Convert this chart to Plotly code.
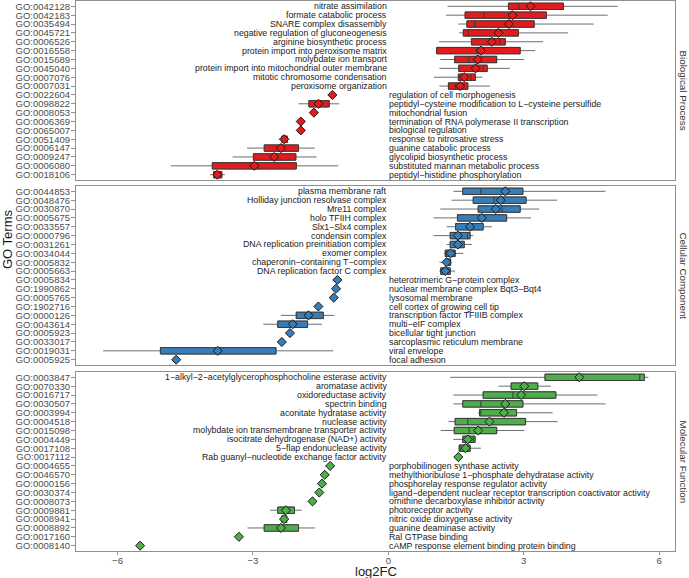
import plotly.graph_objects as go

# ---------------- data ----------------
bp_ids = ["GO:0042128","GO:0042183","GO:0035494","GO:0045721","GO:0006526","GO:0016558","GO:0015689","GO:0045040","GO:0007076","GO:0007031",
          "GO:0022604","GO:0098822","GO:0008053","GO:0006369","GO:0065007","GO:0051409","GO:0006147","GO:0009247","GO:0006080","GO:0018106"]
bp_desc = ["nitrate assimilation","formate catabolic process","SNARE complex disassembly","negative regulation of gluconeogenesis",
           "arginine biosynthetic process","protein import into peroxisome matrix","molybdate ion transport",
           "protein import into mitochondrial outer membrane","mitotic chromosome condensation","peroxisome organization",
           "regulation of cell morphogenesis","peptidyl−cysteine modification to L−cysteine persulfide","mitochondrial fusion",
           "termination of RNA polymerase II transcription","biological regulation","response to nitrosative stress",
           "guanine catabolic process","glycolipid biosynthetic process","substituted mannan metabolic process",
           "peptidyl−histidine phosphorylation"]
bp_lo   = [1.31,1.28,1.55,1.57,1.12,1.07,1.15,1.13,1.01,1.13,-1.24,-1.99,-1.65,-1.94,-1.94,-2.43,-3.13,-3.45,-4.82,-3.95]
bp_q1   = [2.66,1.70,1.74,1.66,1.84,1.07,1.47,1.56,1.55,1.33,-1.24,-1.76,-1.65,-1.94,-1.94,-2.36,-2.75,-2.99,-3.90,-3.87]
bp_med  = [2.89,2.12,1.91,1.77,2.47,1.96,1.78,2.10,1.83,1.48,-1.24,-1.55,-1.65,-1.94,-1.94,-2.31,-2.38,-2.53,-2.97,-3.79]
bp_q3   = [3.88,3.50,3.23,2.88,2.59,2.92,2.40,2.19,1.93,1.76,-1.24,-1.31,-1.65,-1.94,-1.94,-2.24,-1.99,-2.05,-2.04,-3.69]
bp_hi   = [5.08,4.86,4.55,3.98,3.43,3.25,3.01,2.69,2.08,2.25,-1.24,-1.09,-1.65,-1.94,-1.94,-2.19,-1.63,-1.59,-1.11,-3.62]
bp_mean = [3.15,2.75,2.67,2.44,2.29,2.05,1.98,1.93,1.68,1.59,-1.24,-1.55,-1.65,-1.94,-1.94,-2.31,-2.38,-2.53,-2.97,-3.79]

cc_ids = ["GO:0044853","GO:0048476","GO:0030870","GO:0005675","GO:0033557","GO:0000796","GO:0031261","GO:0034044","GO:0005832","GO:0005663",
          "GO:0005834","GO:1990862","GO:0005765","GO:1902716","GO:0000126","GO:0043614","GO:0005923","GO:0033017","GO:0019031","GO:0005925"]
cc_desc = ["plasma membrane raft","Holliday junction resolvase complex","Mre11 complex","holo TFIIH complex","Slx1−Slx4 complex",
           "condensin complex","DNA replication preinitiation complex","exomer complex","chaperonin−containing T−complex",
           "DNA replication factor C complex","heterotrimeric G−protein complex","nuclear membrane complex Bqt3−Bqt4",
           "lysosomal membrane","cell cortex of growing cell tip","transcription factor TFIIIB complex","multi−eIF complex",
           "bicellular tight junction","sarcoplasmic reticulum membrane","viral envelope","focal adhesion"]
cc_lo   = [1.44,1.40,1.15,1.00,1.29,1.00,1.29,1.23,1.13,1.13,-1.13,-1.16,-1.21,-1.55,-2.38,-2.77,-2.18,-2.36,-6.32,-4.70]
cc_q1   = [1.65,1.88,1.99,1.53,1.49,1.37,1.37,1.26,1.26,1.16,-1.13,-1.16,-1.21,-1.55,-2.04,-2.45,-2.18,-2.36,-5.05,-4.70]
cc_med  = [2.05,2.34,2.52,2.07,1.81,1.75,1.53,1.28,1.30,1.26,-1.13,-1.16,-1.21,-1.55,-1.70,-2.12,-2.18,-2.36,-3.78,-4.70]
cc_q3   = [2.98,3.05,2.92,2.62,2.10,1.81,1.68,1.48,1.38,1.37,-1.13,-1.16,-1.21,-1.55,-1.44,-1.79,-2.18,-2.36,-2.49,-4.70]
cc_hi   = [4.81,3.74,3.34,3.16,2.29,1.88,1.85,1.66,1.38,1.48,-1.13,-1.16,-1.21,-1.55,-1.20,-1.47,-2.18,-2.36,-1.22,-4.70]
cc_mean = [2.59,2.49,2.38,2.07,1.81,1.54,1.54,1.38,1.29,1.26,-1.13,-1.16,-1.21,-1.55,-1.77,-2.12,-2.18,-2.36,-3.78,-4.70]

mf_ids = ["GO:0003847","GO:0070330","GO:0016717","GO:0030507","GO:0003994","GO:0004518","GO:0015098","GO:0004449","GO:0017108","GO:0017112",
          "GO:0004655","GO:0046570","GO:0000156","GO:0030374","GO:0008073","GO:0009881","GO:0008941","GO:0008892","GO:0017160","GO:0008140"]
mf_desc = ["1−alkyl−2−acetylglycerophosphocholine esterase activity","aromatase activity","oxidoreductase activity",
           "spectrin binding","aconitate hydratase activity","nuclease activity","molybdate ion transmembrane transporter activity",
           "isocitrate dehydrogenase (NAD+) activity","5−flap endonuclease activity","Rab guanyl−nucleotide exchange factor activity",
           "porphobilinogen synthase activity","methylthioribulose 1−phosphate dehydratase activity",
           "phosphorelay response regulator activity","ligand−dependent nuclear receptor transcription coactivator activity",
           "ornithine decarboxylase inhibitor activity","photoreceptor activity","nitric oxide dioxygenase activity",
           "guanine deaminase activity","Ral GTPase binding","cAMP response element binding protein binding"]
mf_lo   = [1.37,2.44,1.44,1.44,1.99,1.33,1.16,1.44,1.56,1.51,-1.29,-1.41,-1.47,-1.53,-1.68,-2.62,-2.40,-3.12,-3.31,-5.50]
mf_q1   = [3.47,2.72,2.10,1.65,2.02,1.48,1.46,1.65,1.57,1.53,-1.29,-1.41,-1.47,-1.53,-1.68,-2.45,-2.36,-2.75,-3.31,-5.50]
mf_med  = [5.57,3.01,2.76,2.05,2.05,1.76,1.79,1.88,1.58,1.55,-1.29,-1.41,-1.47,-1.53,-1.68,-2.27,-2.31,-2.38,-3.31,-5.50]
mf_q3   = [5.67,3.31,3.71,2.98,2.84,3.04,2.40,1.92,1.81,1.57,-1.29,-1.41,-1.47,-1.53,-1.68,-2.08,-2.25,-1.99,-3.31,-5.50]
mf_hi   = [5.76,3.60,4.63,4.81,3.64,3.75,3.01,1.93,2.05,1.58,-1.29,-1.41,-1.47,-1.53,-1.68,-1.92,-2.21,-1.62,-3.31,-5.50]
mf_mean = [4.23,3.01,2.94,2.59,2.56,2.24,1.99,1.76,1.71,1.55,-1.29,-1.41,-1.47,-1.53,-1.68,-2.27,-2.31,-2.38,-3.31,-5.50]

panel_names = ["Biological Process", "Cellular Component", "Molecular Function"]
panel_colors = ["#E41A1C", "#377EB8", "#4DAF4A"]
x_ticks = [-6, -3, 0, 3, 6]

panels = [
    (bp_ids, bp_desc, bp_lo, bp_q1, bp_med, bp_q3, bp_hi, bp_mean),
    (cc_ids, cc_desc, cc_lo, cc_q1, cc_med, cc_q3, cc_hi, cc_mean),
    (mf_ids, mf_desc, mf_lo, mf_q1, mf_med, mf_q3, mf_hi, mf_mean),
]

# ---------------- figure ----------------
W, H = 689, 578
ML, MR, MT, MB = 76, 14, 1, 27
plot_h = H - MT - MB
plot_w = W - ML - MR
FONT = "Liberation Sans, Arial, Helvetica, sans-serif"
GRAY_LINE = "#8f8f8f"
TICK_COL = "#4d4d4d"

# panel pixel extents (top, bottom)
panel_px = [(1, 180), (186, 365), (372, 551)]
domains = []
for top, bot in panel_px:
    domains.append([1 - (bot - MT) / plot_h, 1 - (top - MT) / plot_h])
domains[2][0] = 0.0
domains[0][1] = 1.0

fig = go.Figure()
annotations = []

for p, (ids, desc, lo, q1, med, q3, hi, mean) in enumerate(panels):
    sfx = "" if p == 0 else str(p + 1)
    xa, ya = "x" + sfx, "y" + sfx
    col = panel_colors[p]
    # whiskers (lighter gray)
    fig.add_trace(go.Box(
        y=ids, lowerfence=lo, q1=q1, median=med, q3=q3, upperfence=hi,
        orientation="h", xaxis=xa, yaxis=ya, width=0.72, whiskerwidth=0,
        fillcolor=col, line=dict(color="#6e6e6e", width=1), boxpoints=False,
        showlegend=False, hoverinfo="skip"))
    # box body with darker outline
    fig.add_trace(go.Box(
        y=ids, lowerfence=q1, q1=q1, median=med, q3=q3, upperfence=q3,
        orientation="h", xaxis=xa, yaxis=ya, width=0.72, whiskerwidth=0,
        fillcolor=col, line=dict(color="#3a3a3a", width=1), boxpoints=False,
        showlegend=False, hoverinfo="skip"))
    fig.add_trace(go.Scatter(
        x=mean, y=ids, mode="markers", xaxis=xa, yaxis=ya,
        marker=dict(symbol="diamond", size=7, color=col, line=dict(color="#1a1a1a", width=1)),
        showlegend=False, hoverinfo="skip"))
    n = len(ids)
    for i, d in enumerate(desc):
        up = mean[i] > 0
        annotations.append(dict(
            x=0, y=n - 1 - i, xref=xa, yref=ya, text=d, showarrow=False,
            xanchor="right" if up else "left", yanchor="middle", borderpad=0,
            font=dict(size=8.8, color="#1a1a1a", family=FONT)))
    # strip label
    ymid = (domains[p][0] + domains[p][1]) / 2
    annotations.append(dict(
        x=1 + 8 / plot_w, y=ymid, xref="paper", yref="paper",
        text=panel_names[p], textangle=90, showarrow=False,
        xanchor="center", yanchor="middle",
        font=dict(size=9.8, color="#333333", family=FONT)))

    layout_x = dict(
        range=[-6.92, 6.35], showgrid=False, zeroline=False,
        showline=True, mirror=True, linecolor=GRAY_LINE, linewidth=1.2,
        tickmode="array", tickvals=x_ticks, anchor=ya,
        matches=None if p == 0 else "x",
    )
    if p < 2:
        layout_x.update(showticklabels=False, ticks="")
    else:
        layout_x.update(ticks="outside", ticklen=3, tickcolor=GRAY_LINE, tickwidth=1,
                        ticklabelstandoff=-3,
                        tickfont=dict(size=9.6, color=TICK_COL, family=FONT))
    layout_y = dict(
        type="category", categoryorder="array", categoryarray=list(reversed(ids)),
        tickmode="array", tickvals=ids, ticktext=ids,
        range=[-0.6, n - 0.4], domain=domains[p], anchor=xa,
        showgrid=False, zeroline=False, showline=True, mirror=True,
        linecolor=GRAY_LINE, linewidth=1.2, ticks="outside", ticklen=4,
        tickcolor=GRAY_LINE, tickwidth=1, ticklabelstandoff=-1,
        tickfont=dict(size=9.5, color=TICK_COL, family=FONT))
    fig.update_layout(**{"xaxis" + sfx: layout_x, "yaxis" + sfx: layout_y})

# axis titles
annotations.append(dict(
    x=0.5, y=-(571 - (H - MB)) / plot_h, xref="paper", yref="paper", text="log2FC",
    showarrow=False, xanchor="center", yanchor="middle",
    font=dict(size=13, color="#1a1a1a", family=FONT)))
annotations.append(dict(
    x=-(ML - 7) / plot_w, y=1 - (240 - MT) / plot_h, xref="paper", yref="paper",
    text="GO Terms", textangle=-90, showarrow=False, xanchor="center", yanchor="middle",
    font=dict(size=13, color="#1a1a1a", family=FONT)))

fig.update_layout(
    width=W, height=H,
    margin=dict(l=ML, r=MR, t=MT, b=MB),
    paper_bgcolor="white", plot_bgcolor="white",
    boxmode="overlay",
    font=dict(family=FONT),
    annotations=annotations,
)

fig.write_html("out.html", config={"displayModeBar": False},
               post_script="document.body.style.margin='0';document.body.style.overflow='hidden';")
